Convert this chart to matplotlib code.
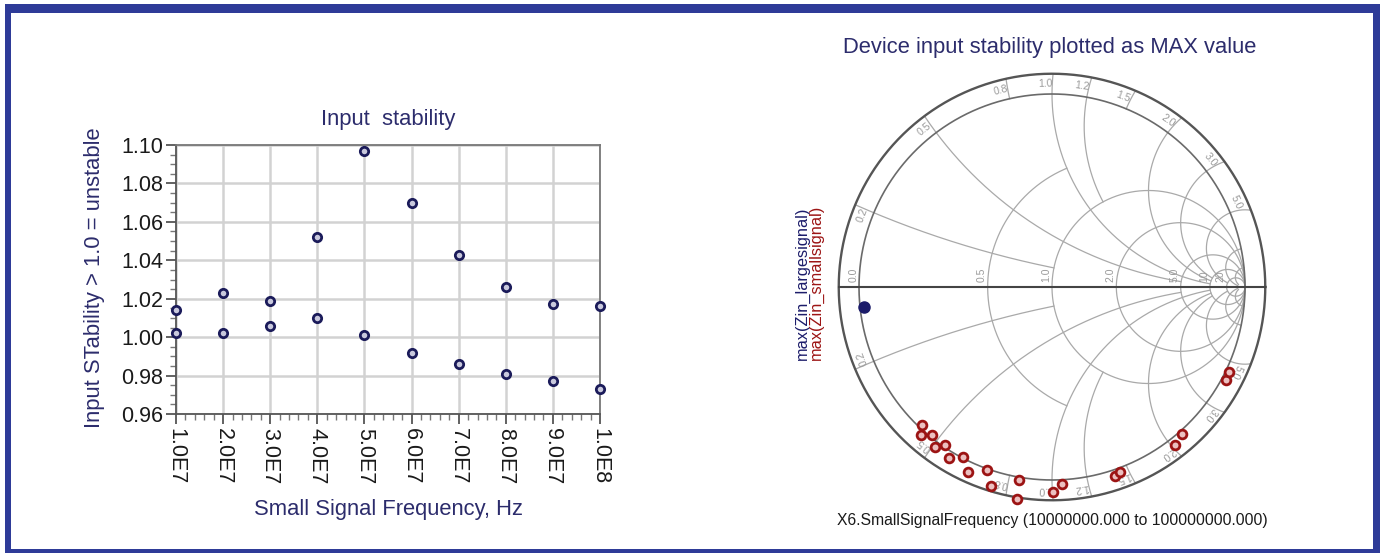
import numpy as np
import matplotlib
matplotlib.use('Agg')
import matplotlib.pyplot as plt
from matplotlib.patches import Rectangle
from matplotlib.ticker import MultipleLocator, FixedLocator, FixedFormatter

plt.rcParams['font.family'] = ['Liberation Sans', 'DejaVu Sans']

# ---------------- data ----------------
freq_hz = [1e7, 2e7, 3e7, 4e7, 5e7, 6e7, 7e7, 8e7, 9e7, 1e8]
stab_upper = [1.014, 1.023, 1.019, 1.052, 1.097, 1.070, 1.043, 1.026, 1.017, 1.016]
stab_lower = [1.002, 1.002, 1.006, 1.010, 1.001, 0.992, 0.986, 0.981, 0.977, 0.973]
freq_tick_labels = ['1.0E7', '2.0E7', '3.0E7', '4.0E7', '5.0E7',
                    '6.0E7', '7.0E7', '8.0E7', '9.0E7', '1.0E8']
stab_ticks = [0.96, 0.98, 1.00, 1.02, 1.04, 1.06, 1.08, 1.10]

# reflection-coefficient coordinates
zin_small_re = [-0.673, -0.677, -0.621, -0.608, -0.552, -0.535, -0.460, -0.436, -0.335, -0.314,
                -0.173, -0.179, 0.004, 0.051, 0.324, 0.351, 0.637, 0.676, 0.901, 0.918]
zin_small_im = [-0.715, -0.769, -0.769, -0.828, -0.821, -0.885, -0.882, -0.960, -0.946, -1.033,
                -0.998, -1.099, -1.064, -1.022, -0.981, -0.958, -0.819, -0.764, -0.483, -0.438]
zin_large_re = [-0.974]
zin_large_im = [-0.104]

# Smith chart grid: (resistance, reactance limit) and (reactance, resistance limit)
smith_r_circles = [0.5, 1, 2, 5, 10, 20]
smith_r_xlimit = [1, np.inf, np.inf, np.inf, np.inf, np.inf]
smith_x_arcs = [0.2, 0.5, 1.0, 1.2, 2.0, 3.0, 5.0, 10, 20]
smith_x_rlimit = [1, 5, 10, 1, 10, 10, 20, 50, 50]
smith_ring_ticks = [0.8, 1.5]
ring_labels = ['0.2', '0.5', '0.8', '1.0', '1.2', '1.5', '2.0', '3.0', '5.0']
ring_label_vals = [0.2, 0.5, 0.8, 1.0, 1.2, 1.5, 2.0, 3.0, 5.0]
axis_labels = ['0.0', '0.5', '1.0', '2.0', '5.0', '10', '20']
axis_label_vals = [0.0, 0.5, 1.0, 2.0, 5.0, 10, 20]

NAVY = '#2c2c6c'
W, H = 1386, 554
fig = plt.figure(figsize=(W / 100, H / 100), dpi=100)
fig.patch.set_facecolor('white')


def fx(px):
    return px / W


def fy(py):
    return 1 - py / H


# ---------------- frame ----------------
border = '#2e3b98'
for (x0, y0, x1, y1) in [(5, 4, 1380, 13), (5, 4, 11, 553), (1373, 4, 1380, 553), (5, 549, 1380, 553)]:
    fig.patches.append(Rectangle((fx(x0), fy(y1)), (x1 - x0) / W, (y1 - y0) / H,
                                 transform=fig.transFigure, facecolor=border,
                                 edgecolor='none', zorder=0))

# ---------------- left chart ----------------
ax = fig.add_axes([fx(176), fy(414), (600 - 176) / W, (414 - 145) / H])
ax.set_xlim(1e7, 1e8)
ax.set_ylim(0.96, 1.10)
ax.plot(freq_hz, stab_upper, 'o', ms=6, mec='#1b1b5a', mfc='#c9c9dd', mew=2, clip_on=False, zorder=5)
ax.plot(freq_hz, stab_lower, 'o', ms=6, mec='#1b1b5a', mfc='#c9c9dd', mew=2, clip_on=False, zorder=5)
ax.xaxis.set_major_locator(FixedLocator(freq_hz))
ax.xaxis.set_major_formatter(FixedFormatter(freq_tick_labels))
ax.xaxis.set_minor_locator(MultipleLocator(2e6))
ax.yaxis.set_major_locator(FixedLocator(stab_ticks))
ax.yaxis.set_major_formatter(FixedFormatter(['%.2f' % v for v in stab_ticks]))
ax.yaxis.set_minor_locator(MultipleLocator(0.005))
ax.grid(True, which='major', color='#d2d2d2', lw=1.8)
ax.set_axisbelow(True)
for s in ax.spines.values():
    s.set_color('#777777')
    s.set_linewidth(1.3)
ax.spines['left'].set_color('#555555')
ax.spines['bottom'].set_color('#555555')
ax.tick_params(axis='both', which='major', direction='out', length=7, width=1.3,
               color='#555555', labelsize=15.5, labelcolor='#1a1a1a')
ax.tick_params(axis='both', which='minor', direction='out', length=4, width=1.0, color='#777777')
ax.tick_params(axis='x', which='major', pad=3)
ax.tick_params(axis='y', which='major', pad=2)
for lab in ax.get_xticklabels():
    lab.set_rotation(270)
    lab.set_va('top')
    lab.set_ha('center')

fig.text(fx(388), fy(120), 'Input  stability', ha='center', va='center', fontsize=15.8, color=NAVY)
fig.text(fx(388), fy(510), 'Small Signal Frequency, Hz', ha='center', va='center', fontsize=15.8, color=NAVY)
fig.text(fx(95), fy(278), 'Input STability > 1.0 = unstable', ha='center', va='center',
         rotation=90, fontsize=15.8, color=NAVY)

# ---------------- Smith chart ----------------
cx, cy, R = 1052, 287, 193
lim = 1.2
ax2 = fig.add_axes([fx(cx - lim * R), fy(cy + lim * R), 2 * lim * R / W, 2 * lim * R / H])
ax2.set_xlim(-lim, lim)
ax2.set_ylim(-lim, lim)
ax2.axis('off')
R_OUT = 1.105
GRID = '#a9a9a9'


def gam(z):
    return (z - 1) / (z + 1)


# resistance circles
for r, xl in zip(smith_r_circles, smith_r_xlimit):
    t = np.linspace(-np.arctan(xl), np.arctan(xl), 1500)
    t = np.clip(t, -np.pi / 2 + 1e-4, np.pi / 2 - 1e-4)
    g = gam(r + 1j * np.tan(t))
    ax2.plot(g.real, g.imag, color=GRID, lw=0.9)


def r_at_outer(x):
    a = 1 - R_OUT ** 2
    b = -2 * (1 + R_OUT ** 2)
    c = a * (1 + x ** 2)
    disc = b * b - 4 * a * c
    if disc < 0:
        return 0.0
    roots = np.array([(-b + np.sqrt(disc)) / (2 * a), (-b - np.sqrt(disc)) / (2 * a)])
    roots = roots[roots < 0]
    if len(roots) == 0:
        return 0.0
    r0 = roots.max()
    return r0 if r0 > -2 else 0.0


# reactance arcs
for xv, rl in zip(smith_x_arcs, smith_x_rlimit):
    for sgn in (1, -1):
        r0 = r_at_outer(xv)
        if rl > 1:
            rr = np.concatenate([np.linspace(r0, 1, 800), np.geomspace(1, rl, 800)])
        else:
            rr = np.linspace(r0, rl, 800)
        g = gam(rr + 1j * sgn * xv)
        ax2.plot(g.real, g.imag, color=GRID, lw=0.9)

# ring ticks
for xv in smith_ring_ticks:
    for sgn in (1, -1):
        r0 = r_at_outer(xv)
        rr = np.linspace(r0, 0, 50)
        g = gam(rr + 1j * sgn * xv)
        ax2.plot(g.real, g.imag, color=GRID, lw=0.9)

th = np.linspace(0, 2 * np.pi, 720)
ax2.plot(np.cos(th), np.sin(th), color='#6a6a6a', lw=1.2)
ax2.plot(R_OUT * np.cos(th), R_OUT * np.sin(th), color='#555555', lw=1.7)
ax2.plot([-R_OUT, R_OUT], [0, 0], color='#444444', lw=1.5)

# ring labels
for lab, xv in zip(ring_labels, ring_label_vals):
    for sgn in (1, -1):
        g = gam(1j * sgn * xv)
        ang = np.angle(g) + sgn * 0.035
        rad = 1.052
        rot = np.degrees(ang) - 90
        ax2.text(rad * np.cos(ang), rad * np.sin(ang), lab, fontsize=7.5, color='#9a9a9a',
                 rotation=rot, ha='center', va='center', rotation_mode='anchor')

for lab, rv in zip(axis_labels, axis_label_vals):
    gx = (rv - 1) / (rv + 1)
    ax2.text(gx - 0.03, 0.025, lab, fontsize=7.5, color='#9a9a9a', rotation=90,
             ha='center', va='bottom')

ax2.plot(zin_small_re, zin_small_im, 'o', ms=6.3, mec='#9c1414', mfc='#ecc0c0', mew=2, clip_on=False, zorder=5)
ax2.plot(zin_large_re, zin_large_im, 'o', ms=8, mec='#1c1c6a', mfc='#1c1c6a', clip_on=False, zorder=5)

fig.text(fx(1050), fy(47), 'Device input stability plotted as MAX value', ha='center', va='center',
         fontsize=15.8, color=NAVY)
fig.text(fx(1052), fy(520), 'X6.SmallSignalFrequency (10000000.000 to 100000000.000)', ha='center',
         va='center', fontsize=11.3, color='#1a1a1a')
fig.text(fx(802), fy(360), 'max(Zin_largesignal)', ha='center', va='bottom', rotation=90,
         fontsize=11.8, color='#1c1c6a')
fig.text(fx(816), fy(360), 'max(Zin_smallsignal)', ha='center', va='bottom', rotation=90,
         fontsize=11.8, color='#9c1414')

fig.savefig('out.png', dpi=100, facecolor='white')
